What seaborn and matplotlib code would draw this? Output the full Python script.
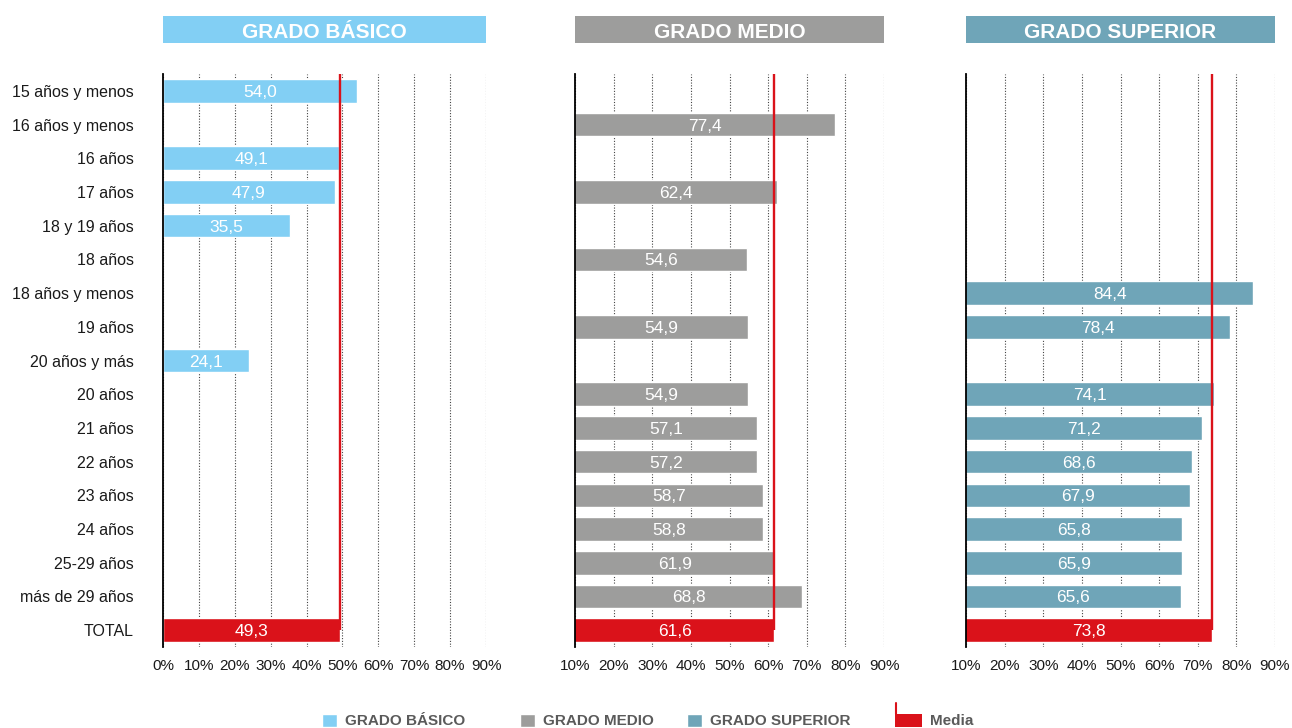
import numpy as np
import pandas as pd
import matplotlib
matplotlib.use("Agg")
import matplotlib.pyplot as plt
import seaborn as sns
from matplotlib.patches import Rectangle, Patch
from matplotlib.lines import Line2D
from matplotlib.legend_handler import HandlerBase

# ---------------- data ----------------
categories = ["15 años y menos", "16 años y menos", "16 años", "17 años", "18 y 19 años",
              "18 años", "18 años y menos", "19 años", "20 años y más", "20 años",
              "21 años", "22 años", "23 años", "24 años", "25-29 años", "más de 29 años",
              "TOTAL"]
nan = np.nan
basico = [54.0, nan, 49.1, 47.9, 35.5, nan, nan, nan, 24.1, nan,
          nan, nan, nan, nan, nan, nan, 49.3]
medio = [nan, 77.4, nan, 62.4, nan, 54.6, nan, 54.9, nan, 54.9,
         57.1, 57.2, 58.7, 58.8, 61.9, 68.8, 61.6]
superior = [nan, nan, nan, nan, nan, nan, 84.4, 78.4, nan, 74.1,
            71.2, 68.6, 67.9, 65.8, 65.9, 65.6, 73.8]
panel_titles = ["GRADO BÁSICO", "GRADO MEDIO", "GRADO SUPERIOR"]
legend_labels = ["GRADO BÁSICO", "GRADO MEDIO", "GRADO SUPERIOR", "Media"]
xticks_basico = [0, 10, 20, 30, 40, 50, 60, 70, 80, 90]
xticks_other = [10, 20, 30, 40, 50, 60, 70, 80, 90]

# ---------------- style ----------------
C_BAS = "#82CFF4"
C_MED = "#9D9D9C"
C_SUP = "#6FA5B8"
RED = "#DA121A"
TXT = "#1a1a1a"
LEG_TXT = "#5a5a5a"

sns.set_theme(style="white")
plt.rcParams["font.family"] = ["Liberation Sans", "DejaVu Sans"]

W, H = 1292, 728
fig = plt.figure(figsize=(W / 100, H / 100), dpi=100)

def fx(px):
    return px / W

ax_top, ax_bot = 74, 647
axes_px = [(163, 486), (575, 884), (966, 1275)]
series = [basico, medio, superior]
colors = [C_BAS, C_MED, C_SUP]
xmins = [0, 10, 10]
tick_sets = [xticks_basico, xticks_other, xticks_other]

for k in range(3):
    l, r = axes_px[k]
    ax = fig.add_axes([fx(l), (H - ax_bot) / H, fx(r - l), (ax_bot - ax_top) / H])
    df = pd.DataFrame({"cat": categories, "val": series[k]}).dropna()
    pal = {c: (RED if c == "TOTAL" else colors[k]) for c in categories}
    sns.barplot(data=df, y="cat", x="val", hue="cat", palette=pal, order=categories,
                hue_order=list(df["cat"]), legend=False, errorbar=None, width=0.7,
                orient="h", ax=ax, saturation=1, zorder=2)
    ax.set_xlim(xmins[k], 90)
    ax.set_ylim(len(categories) - 0.5, -0.5)
    ax.set_xticks(tick_sets[k])
    ax.set_xticklabels([f"{t}%" for t in tick_sets[k]])
    ax.set_xlabel("")
    ax.set_ylabel("")
    ax.set_axisbelow(True)
    ax.grid(axis="x", linestyle=(0, (1, 1.5)), color="#444444", linewidth=0.8)
    ax.grid(axis="y", visible=False)
    for s in ["top", "right", "bottom"]:
        ax.spines[s].set_visible(False)
    ax.spines["left"].set_color("black")
    ax.spines["left"].set_linewidth(1.3)
    ax.spines["left"].set_zorder(4)
    ax.tick_params(axis="x", length=0, pad=9, labelsize=11, labelcolor=TXT)
    if k == 0:
        ax.tick_params(axis="y", length=0, pad=21, labelsize=11.5, labelcolor=TXT)
    else:
        ax.tick_params(axis="y", length=0, labelleft=False)

    # value labels
    for i, v in enumerate(series[k]):
        if not np.isnan(v):
            ax.text((xmins[k] + v) / 2, i, f"{v:.1f}".replace(".", ","), ha="center",
                    va="center_baseline", color="white", fontsize=12.5, zorder=6)
    # mean line
    total = series[k][-1]
    ax.vlines(total, -0.5, len(categories) - 1, color=RED, linewidth=1.7, zorder=5)

    # title box
    ax.add_patch(Rectangle((0, 1 + (ax_top - 43) / (ax_bot - ax_top)), 1,
                           27 / (ax_bot - ax_top), transform=ax.transAxes,
                           facecolor=colors[k], edgecolor="none", clip_on=False))
    ax.text(0.5, 1 + (ax_top - 30) / (ax_bot - ax_top), panel_titles[k],
            transform=ax.transAxes, ha="center", va="center_baseline", color="white",
            fontsize=15, fontweight="bold")

# ---------------- legend ----------------
class MediaHandler(HandlerBase):
    def create_artists(self, legend, orig_handle, xdescent, ydescent, width, height,
                       fontsize, trans):
        rect = Rectangle((-xdescent, -ydescent), width, height, facecolor=RED,
                         edgecolor="none", transform=trans)
        line = Line2D([-xdescent + 0.8, -xdescent + 0.8],
                      [-ydescent + height, -ydescent + height * 1.86],
                      color=RED, linewidth=1.5, transform=trans)
        return [rect, line]

media_handle = Patch(facecolor=RED)
leg_specs = [
    (Patch(facecolor=C_BAS), legend_labels[0], 322, 1.0, None),
    (Patch(facecolor=C_MED), legend_labels[1], 520, 1.0, None),
    (Patch(facecolor=C_SUP), legend_labels[2], 687, 1.0, None),
    (media_handle, legend_labels[3], 895, 1.77, {media_handle: MediaHandler()}),
]
for h, lab, xpx, hl, hmap in leg_specs:
    lg = fig.legend([h], [lab], loc="center left",
                    bbox_to_anchor=(fx(xpx), (H - 721) / H),
                    frameon=False, borderpad=0, borderaxespad=0,
                    handlelength=hl, handleheight=0.92, handletextpad=0.5,
                    prop=dict(weight="bold", size=11), labelcolor=LEG_TXT,
                    handler_map=hmap)

fig.savefig("out.png", dpi=100)
